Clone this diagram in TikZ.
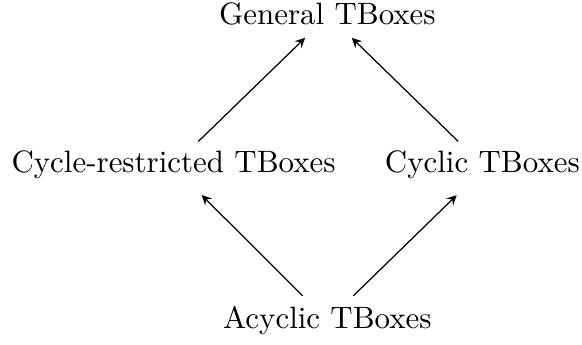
\documentclass[tikz,border=0pt]{standalone}
\usepackage{amsmath}
\usepackage{tikz}
\usetikzlibrary{arrows}

\begin{document}
\begin{tikzpicture}[x=1pt,y=1pt,>=stealth,
  tbox/.style={anchor=base,inner sep=3.33pt}]
\useasboundingbox (0,0) rectangle (188.1,111.5);
\node[tbox] (gen)  at (105.8,103.6) {General TBoxes};
\node[tbox] (cr)   at (56.1,55.6)   {Cycle-restricted TBoxes};
\node[tbox] (cyc)  at (155.9,55.6)  {Cyclic TBoxes};
\node[tbox] (acyc) at (105.8,5.2)   {Acyclic TBoxes};
\draw[->] ([xshift=-8pt]acyc.north) -- ([xshift=9.1pt,yshift=-1.6pt]cr.south); % Acyclic to cycle-restricted
\draw[->] ([xshift=8.4pt]acyc.north) -- ([xshift=-8.3pt,yshift=-1.6pt]cyc.south); % Acyclic to cyclic
\draw[->] ([xshift=8pt,yshift=-0.4pt]cr.north) -- ([xshift=-7.2pt,yshift=-0.6pt]gen.south); % Cycle-restricted to general
\draw[->] ([xshift=-7.8pt,yshift=-0.4pt]cyc.north) -- ([xshift=7.9pt,yshift=-0.6pt]gen.south); % Cyclic to general
\end{tikzpicture}
\end{document}
